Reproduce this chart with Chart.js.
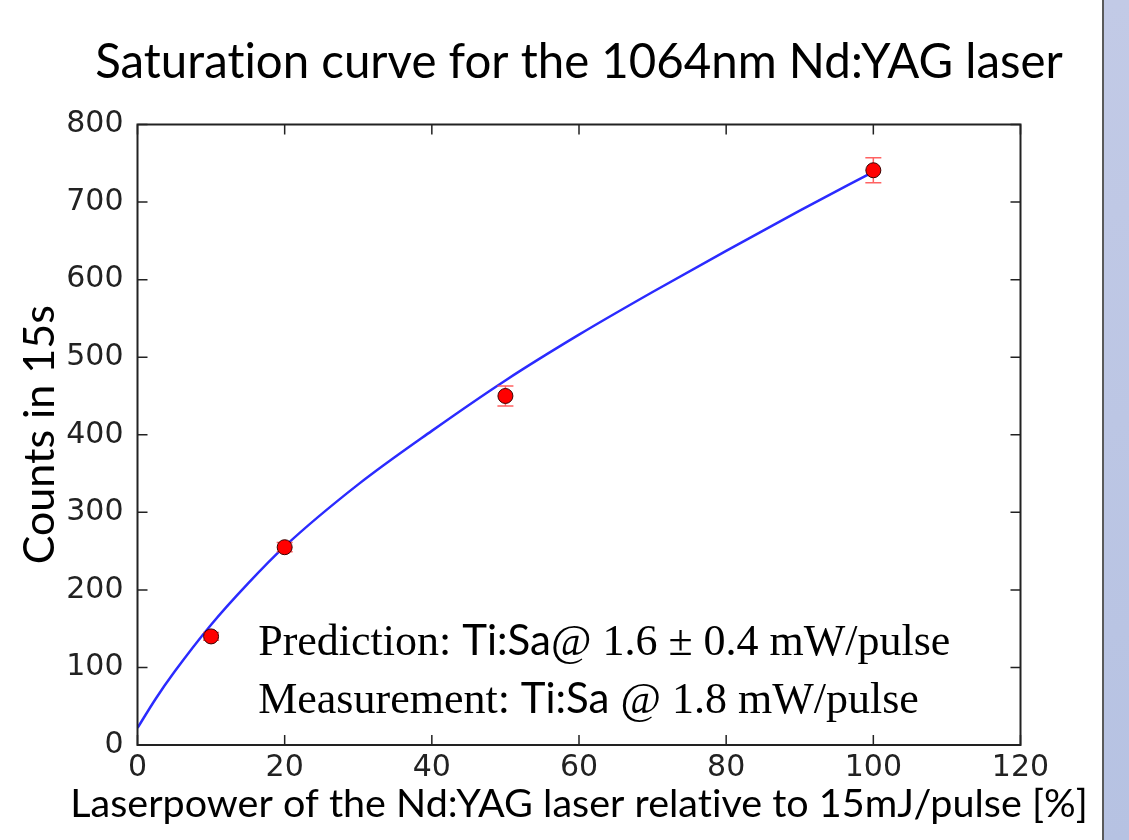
<!DOCTYPE html>
<html>
<head>
<meta charset="utf-8">
<script src="https://cdn.jsdelivr.net/npm/chart.js@4"></script>
<style>
  body { margin: 0; background: #ffffff; overflow: hidden; }
  #wrap { position: relative; width: 1129px; height: 840px; }
  #chart { position: absolute; left: 0; top: 0; }
  #side {
    position: absolute; left: 1102px; top: 0; width: 27px; height: 840px;
    border-left: 2px solid #5a5a5a; box-sizing: border-box;
    background: linear-gradient(#c2cae6, #b6c2e2);
  }
</style>
</head>
<body>
<div id="wrap">
  <canvas id="chart" width="1102" height="840"></canvas>
  <div id="side"></div>
</div>
<script>
// Measured points (laser power % vs counts in 15 s)
const powerPct = [10, 20, 50, 100];
const counts = [140, 255, 450, 741];
const countErr = [5, 6, 13, 16];

// Fit curve
const fitPower = [0, 2.5, 5, 10, 15, 20, 30, 40, 50, 60, 70, 80, 90, 100];
const fitCounts = [22, 60, 94, 155, 208, 256, 336, 405, 470, 529, 584, 637, 689, 739];

// Axis ticks
const xTickValues = [0, 20, 40, 60, 80, 100, 120];
const yTickValues = [0, 100, 200, 300, 400, 500, 600, 700, 800];

const chartTitle = 'Saturation curve for the 1064nm Nd:YAG laser';
const xAxisTitle = 'Laserpower of the Nd:YAG laser relative to 15mJ/pulse [%]';
const yAxisTitle = 'Counts in 15s';

// Annotation lines: [serif, sans, serif]
const noteLine1 = ['Prediction: ', 'Ti:Sa', '@ 1.6 \u00b1 0.4 mW/pulse'];
const noteLine2 = ['Measurement: ', 'Ti:Sa', ' @ 1.8 mW/pulse'];

const frameColor = '#222222';
const sansFamily = 'Lato, "Open Sans", sans-serif';

// font size that makes text span the given width
function fitSize(ctx, text, family, width) {
    ctx.save();
    ctx.font = '100px ' + family;
    const w = ctx.measureText(text).width;
    ctx.restore();
    return 100 * width / w;
}

// Chart title and x-axis title, centred on the plot area like matplotlib
const titles = {
    id: 'titles',
    afterDraw(chart) {
        const { ctx, chartArea: a } = chart;
        const cx = (a.left + a.right) / 2;
        ctx.save();
        ctx.letterSpacing = '0.01px';
        ctx.fillStyle = '#000000';
        ctx.textAlign = 'center';
        ctx.textBaseline = 'alphabetic';
        ctx.font = fitSize(ctx, chartTitle, sansFamily, 968).toFixed(1) + 'px ' + sansFamily;
        ctx.fillText(chartTitle, cx, a.top - 46.5);
        ctx.font = fitSize(ctx, xAxisTitle, sansFamily, 1016).toFixed(1) + 'px ' + sansFamily;
        ctx.fillText(xAxisTitle, cx, a.bottom + 72);
        ctx.restore();
    }
};

// Error bars, drawn just before the red markers
const errorBars = {
    id: 'errorBars',
    beforeDatasetDraw(chart, args) {
        if (args.index !== 0) return;
        const { ctx, scales } = chart;
        ctx.save();
        ctx.strokeStyle = 'rgba(255, 70, 70, 0.85)';
        ctx.lineWidth = 1.5;
        powerPct.forEach((p, i) => {
            const x = scales.x.getPixelForValue(p);
            const yTop = scales.y.getPixelForValue(counts[i] + countErr[i]);
            const yBot = scales.y.getPixelForValue(counts[i] - countErr[i]);
            ctx.beginPath();
            ctx.moveTo(x, yTop); ctx.lineTo(x, yBot);
            ctx.moveTo(x - 8, yTop); ctx.lineTo(x + 8, yTop);
            ctx.moveTo(x - 8, yBot); ctx.lineTo(x + 8, yBot);
            ctx.stroke();
        });
        ctx.restore();
    }
};

// Matplotlib-style frame with inward ticks on all four sides
const frameTicks = {
    id: 'frameTicks',
    afterDatasetsDraw(chart) {
        const { ctx, chartArea: a, scales } = chart;
        const len = 10;
        ctx.save();
        ctx.strokeStyle = frameColor;
        ctx.lineWidth = 1.5;
        ctx.beginPath();
        xTickValues.forEach(v => {
            const x = scales.x.getPixelForValue(v);
            ctx.moveTo(x, a.bottom); ctx.lineTo(x, a.bottom - len);
            ctx.moveTo(x, a.top); ctx.lineTo(x, a.top + len);
        });
        yTickValues.forEach(v => {
            const y = scales.y.getPixelForValue(v);
            ctx.moveTo(a.left, y); ctx.lineTo(a.left + len, y);
            ctx.moveTo(a.right, y); ctx.lineTo(a.right - len, y);
        });
        ctx.stroke();
        ctx.lineWidth = 2;
        ctx.strokeRect(a.left, a.top, a.right - a.left, a.bottom - a.top);
        ctx.restore();
    }
};

// Two-line text note inside the axes
const noteText = {
    id: 'noteText',
    afterDraw(chart) {
        const { ctx, scales } = chart;
        const fonts = ['44px "Liberation Serif", "Times New Roman", serif',
                       '42px ' + sansFamily,
                       '44px "Liberation Serif", "Times New Roman", serif'];
        const x0 = scales.x.getPixelForValue(16.4);
        const rows = [[noteLine1, 116], [noteLine2, 41]];
        ctx.save();
        ctx.fillStyle = '#000000';
        ctx.textBaseline = 'alphabetic';
        ctx.textAlign = 'left';
        rows.forEach(([parts, yVal]) => {
            let x = x0;
            const y = scales.y.getPixelForValue(yVal);
            parts.forEach((s, i) => {
                ctx.font = fonts[i];
                ctx.fillText(s, x, y);
                x += ctx.measureText(s).width;
            });
        });
        ctx.restore();
    }
};

const ctx = document.getElementById('chart').getContext('2d');

new Chart(ctx, {
    type: 'scatter',
    data: {
        datasets: [
            {
                label: 'Measured',
                data: powerPct.map((p, i) => ({ x: p, y: counts[i] })),
                pointRadius: 7.5,
                pointHoverRadius: 7.5,
                pointBackgroundColor: '#ff0000',
                pointBorderColor: '#3a0000',
                pointBorderWidth: 1,
                showLine: false
            },
            {
                label: 'Fit',
                data: fitPower.map((p, i) => ({ x: p, y: fitCounts[i] })),
                showLine: true,
                borderColor: '#2b2bff',
                borderWidth: 2.5,
                pointRadius: 0,
                cubicInterpolationMode: 'monotone',
                fill: false
            }
        ]
    },
    options: {
        responsive: false,
        animation: false,
        layout: {
            padding: { left: 0, right: 81.5, top: 124.5, bottom: 0 }
        },
        plugins: {
            legend: { display: false },
            tooltip: { enabled: false },
            title: { display: false }
        },
        scales: {
            x: {
                type: 'linear',
                min: 0,
                max: 120,
                afterBuildTicks: scale => { scale.ticks = xTickValues.map(v => ({ value: v })); },
                afterFit: scale => { scale.height = 95; },
                grid: { display: false, drawTicks: false },
                border: { display: false },
                ticks: {
                    color: '#222222',
                    font: { family: '"DejaVu Sans", sans-serif', size: 30 },
                    padding: 5,
                    maxRotation: 0
                }
            },
            y: {
                type: 'linear',
                min: 0,
                max: 800,
                afterBuildTicks: scale => { scale.ticks = yTickValues.map(v => ({ value: v })); },
                afterFit: scale => { scale.width = 137.5; },
                grid: { display: false, drawTicks: false },
                border: { display: false },
                ticks: {
                    color: '#222222',
                    font: { family: '"DejaVu Sans", sans-serif', size: 30 },
                    padding: 14
                },
                title: {
                    display: true,
                    text: yAxisTitle,
                    color: '#000000',
                    font: { family: sansFamily, size: 43, lineHeight: 1.2 },
                    padding: { top: 14.2, bottom: 0 }
                }
            }
        }
    },
    plugins: [errorBars, frameTicks, noteText, titles]
});
</script>
</body>
</html>
